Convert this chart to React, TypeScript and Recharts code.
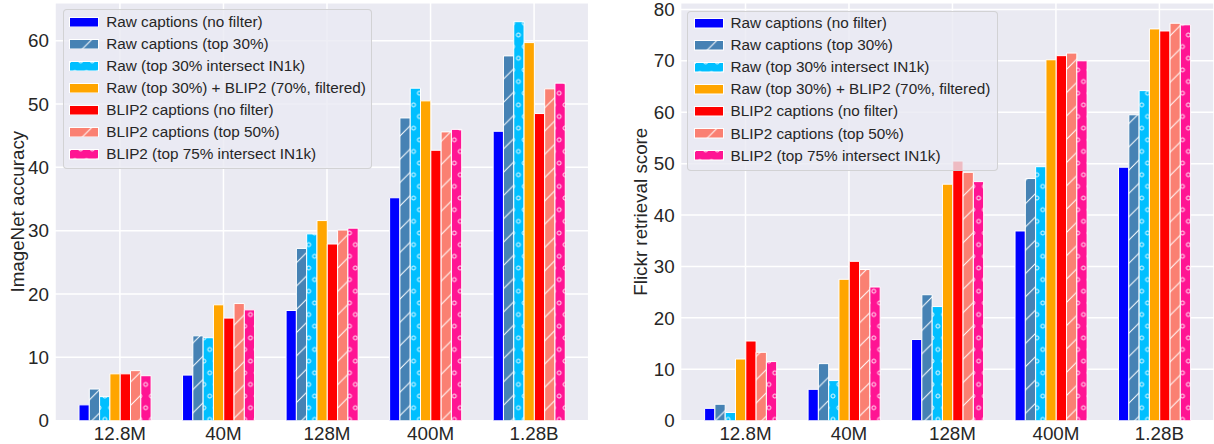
import React from 'react';
import { BarChart, Bar, XAxis, YAxis, CartesianGrid, Legend, Label } from 'recharts';

const categories = ['12.8M', '40M', '128M', '400M', '1.28B'];

const seriesKeys = ['rawNo', 'rawTop30', 'rawIN1k', 'mix', 'blipNo', 'blipTop50', 'blipIN1k'];
const seriesNames = [
  'Raw captions (no filter)',
  'Raw captions (top 30%)',
  'Raw (top 30% intersect IN1k)',
  'Raw (top 30%) + BLIP2 (70%, filtered)',
  'BLIP2 captions (no filter)',
  'BLIP2 captions (top 50%)',
  'BLIP2 (top 75% intersect IN1k)',
];
const seriesColors = ['#0000FF', '#4682B4', '#00BFFF', '#FFA500', '#FF0000', '#FA8072', '#FF1493'];
const seriesHatch = ['none', 'slash', 'dots', 'none', 'none', 'slash', 'dots'];

// ImageNet accuracy (left panel)
const inRawNo = [2.5, 7.2, 17.4, 35.2, 45.7];
const inRawTop30 = [5.0, 13.4, 27.2, 47.8, 57.6];
const inRawIN1k = [3.8, 13.1, 29.5, 52.5, 63.0];
const inMix = [7.4, 18.3, 31.6, 50.5, 59.7];
const inBlipNo = [7.4, 16.2, 27.9, 42.7, 48.5];
const inBlipTop50 = [7.9, 18.5, 30.1, 45.6, 52.4];
const inBlipIN1k = [7.1, 17.5, 30.4, 46.0, 53.3];

// Flickr retrieval score (right panel)
const frRawNo = [2.4, 6.1, 15.8, 36.9, 49.3];
const frRawTop30 = [3.2, 11.1, 24.5, 47.1, 59.5];
const frRawIN1k = [1.6, 7.8, 22.2, 49.4, 64.2];
const frMix = [12.0, 27.5, 46.0, 70.2, 76.2];
const frBlipNo = [15.5, 31.0, 50.5, 71.0, 75.8];
const frBlipTop50 = [13.3, 29.4, 48.3, 71.5, 77.3];
const frBlipIN1k = [11.5, 26.0, 46.5, 70.0, 77.0];

const imagenetTicks = [0, 10, 20, 30, 40, 50, 60];
const flickrTicks = [0, 10, 20, 30, 40, 50, 60, 70, 80];

const buildRows = (series: number[][]) =>
  categories.map((cat, i) => {
    const row: Record<string, any> = { cat };
    seriesKeys.forEach((k, j) => {
      row[k] = series[j][i];
    });
    return row;
  });

const imagenetRows = buildRows([inRawNo, inRawTop30, inRawIN1k, inMix, inBlipNo, inBlipTop50, inBlipIN1k]);
const flickrRows = buildRows([frRawNo, frRawTop30, frRawIN1k, frMix, frBlipNo, frBlipTop50, frBlipIN1k]);

const TEXT = '#262626';
const FONT = '"Liberation Sans", Arial, Helvetica, sans-serif';
const H = 23.3; // hatch line spacing
const C = 11.65; // circle row spacing

const fillFor = (i: number) =>
  seriesHatch[i] === 'none' ? seriesColors[i] : `url(#pat-${seriesKeys[i]})`;

const Patterns = () => (
  <svg width={0} height={0} style={{ position: 'absolute', left: 0, top: 0 }}>
    <defs>
      {seriesKeys.map((k, i) => {
        if (seriesHatch[i] === 'slash') {
          return (
            <pattern key={k} id={`pat-${k}`} patternUnits="userSpaceOnUse" width={H} height={H}>
              <rect width={H} height={H} fill={seriesColors[i]} />
              <path
                d={`M-2,2 L2,-2 M0,${H} L${H},0 M${H - 2},${H + 2} L${H + 2},${H - 2}`}
                stroke="#fff"
                strokeWidth={1}
              />
            </pattern>
          );
        }
        if (seriesHatch[i] === 'dots') {
          return (
            <pattern key={k} id={`pat-${k}`} patternUnits="userSpaceOnUse" width={C} height={2 * C}>
              <rect width={C} height={2 * C} fill={seriesColors[i]} />
              {[
                [0, 0],
                [C, 0],
                [0, 2 * C],
                [C, 2 * C],
                [C / 2, C],
              ].map(([cx, cy], j) => (
                <circle key={j} cx={cx} cy={cy} r={2.0} fill="none" stroke="#fff" strokeWidth={0.9} />
              ))}
            </pattern>
          );
        }
        return null;
      })}
    </defs>
  </svg>
);

type Box = { left: number; top: number; w: number; h: number; c0: number };

const makeLegend = (box: Box) => () => (
  <div
    style={{
      position: 'relative',
      width: box.w,
      height: box.h,
      boxSizing: 'border-box',
      background: 'rgba(234,234,242,0.8)',
      border: '1px solid rgba(204,204,204,0.8)',
      borderRadius: 4,
      fontFamily: FONT,
    }}
  >
    {seriesKeys.map((k, i) => (
      <div
        key={k}
        style={{
          position: 'absolute',
          left: -1,
          top: box.c0 - 1 + i * 22.05 - 11,
          height: 22,
          width: box.w,
          display: 'flex',
          alignItems: 'center',
        }}
      >
        <svg width={30} height={10.5} style={{ marginLeft: 6.5, flex: 'none' }}>
          <rect x={0.5} y={0.5} width={29} height={9.5} fill={fillFor(i)} stroke="#fff" strokeWidth={1} />
        </svg>
        <span
          style={{
            marginLeft: 7,
            fontSize: 15.3,
            lineHeight: '22px',
            color: TEXT,
            whiteSpace: 'nowrap',
          }}
        >
          {seriesNames[i]}
        </span>
      </div>
    ))}
  </div>
);

type PanelProps = {
  width: number;
  rows: any[];
  yWidth: number;
  yMax: number;
  ticks: number[];
  yLabel: string;
  labelX: number;
  box: Box;
  rightMargin: number;
};

const Panel = ({ width, rows, yWidth, yMax, ticks, yLabel, labelX, box, rightMargin }: PanelProps) => (
  <BarChart
    width={width}
    height={444}
    data={rows}
    margin={{ top: 2.7, right: rightMargin, bottom: 0, left: 0 }}
    barGap={0}
  >
    <CartesianGrid
      xAxisId="t"
      fill="#EAEAF2"
      stroke="#FFFFFF"
      strokeWidth={1.5}
      vertical
      horizontal
    />
    <XAxis
      xAxisId="t"
      dataKey="cat"
      height={23.3}
      padding={{ left: 13.15, right: 2.85 }}
      tickLine={false}
      axisLine={false}
      tickSize={0}
      tickMargin={6}
      interval={0}
      tick={{ fontSize: 18.8, fill: TEXT, fontFamily: FONT }}
    />
    <XAxis xAxisId="b" dataKey="cat" hide height={0} padding={{ left: 8, right: 8 }} />
    <YAxis
      type="number"
      width={yWidth}
      domain={[0, yMax]}
      ticks={ticks}
      allowDataOverflow
      tickLine={false}
      axisLine={false}
      tickSize={0}
      tickMargin={6}
      interval={0}
      tick={{ fontSize: 18.8, fill: TEXT, fontFamily: FONT }}
    >
      <Label
        content={() => (
          <text
            x={labelX}
            y={211.7}
            transform={`rotate(-90 ${labelX} 211.7)`}
            textAnchor="middle"
            dominantBaseline="central"
            fontSize={18.8}
            fill={TEXT}
            fontFamily={FONT}
          >
            {yLabel}
          </text>
        )}
      />
    </YAxis>
    {seriesKeys.map((k, i) => (
      <Bar
        key={k}
        xAxisId="b"
        dataKey={k}
        name={seriesNames[i]}
        fill={fillFor(i)}
        stroke="#FFFFFF"
        strokeWidth={1}
        barSize={10.3}
        isAnimationActive={false}
      />
    ))}
    <Legend
      layout="horizontal"
      verticalAlign="middle"
      align="center"
      content={makeLegend(box)}
      wrapperStyle={{ left: box.left, top: box.top, width: box.w, height: box.h }}
    />
  </BarChart>
);

export default function App() {
  return (
    <div
      style={{
        position: 'absolute',
        left: 0,
        top: 0,
        width: 1214,
        height: 444,
        background: '#fff',
        fontFamily: FONT,
        overflow: 'hidden',
      }}
    >
      <Patterns />
      <div style={{ position: 'absolute', left: 0, top: 0 }}>
        <Panel
          width={600}
          rows={imagenetRows}
          yWidth={55}
          yMax={66}
          ticks={imagenetTicks}
          yLabel="ImageNet accuracy"
          labelX={17.4}
          box={{ left: 62.7, top: 9.3, w: 309.6, h: 159.7, c0: 12.7 }}
          rightMargin={11.3}
        />
      </div>
      <div style={{ position: 'absolute', left: 600, top: 0 }}>
        <Panel
          width={614}
          rows={flickrRows}
          yWidth={80.6}
          yMax={81.3}
          ticks={flickrTicks}
          yLabel="Flickr retrieval score"
          labelX={41}
          box={{ left: 87, top: 10.7, w: 311, h: 160, c0: 12.6 }}
          rightMargin={0}
        />
      </div>
    </div>
  );
}
